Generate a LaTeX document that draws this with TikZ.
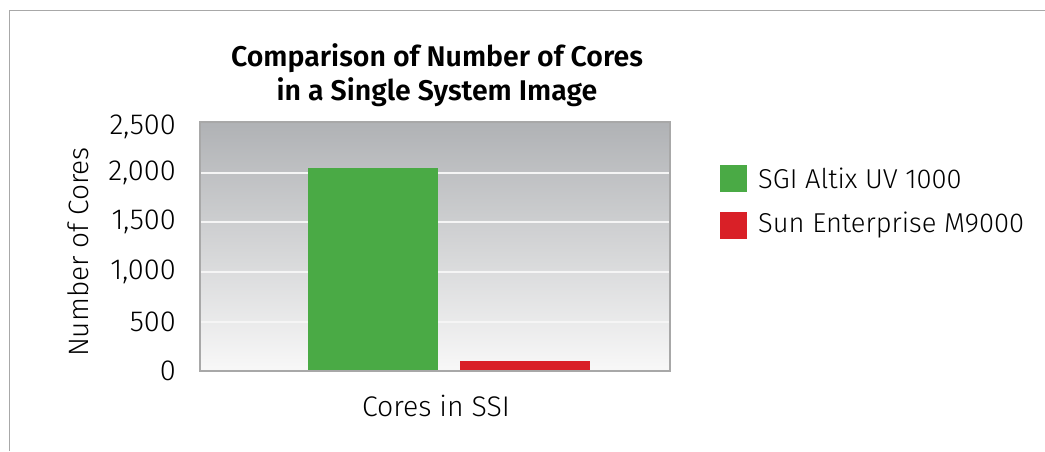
\documentclass[tikz,border=0pt]{standalone}
\usepackage{fontspec}
\setmainfont{Fira Sans}[UprightFont=* Light, BoldFont=* SemiBold]
\definecolor{sgigreen}{HTML}{4AAA45}
\definecolor{sunred}{HTML}{D92027}
\definecolor{frame}{HTML}{A8A8A8}
\definecolor{plottop}{HTML}{B0B2B5}
\definecolor{plotbot}{HTML}{F8F8F8}
\tikzset{
  ticklab/.style={anchor=east, inner sep=0pt, font=\fontsize{29}{29}\selectfont},
  legtext/.style={anchor=west, inner sep=0pt, font=\fontsize{27.3}{27}\selectfont},
  legbox/.style={minimum width=27pt, minimum height=27pt, inner sep=0pt},
  gridline/.style={draw=white!92!gray, line width=1.2pt},
}
\begin{document}
\begin{tikzpicture}[x=1pt,y=-1pt]
\useasboundingbox (0,0) rectangle (1045,451);
% outer frame
\draw[frame, line width=1pt] (9,451) -- (9,10) -- (1045,10);
% title
\node[align=center, font=\bfseries\fontsize{28.5}{34}\selectfont, inner sep=0pt] (title) at (437,75) {Comparison of Number of Cores\\in a Single System Image};
% plot area
\shade[top color=plottop, bottom color=plotbot] (200,122) rectangle (670,371);
\foreach \y in {173,222,272,322} \draw[gridline] (200,\y) -- (670,\y);
% bars
\fill[sgigreen] (308,168) rectangle (438,371);
\fill[sunred] (460,361) rectangle (590,371);
\draw[frame, line width=1.2pt] (200,122) rectangle (670,371);
% ticks
\node[ticklab] (t0) at (176,371) {0};
\node[ticklab] (t1) at (176,322) {500};
\node[ticklab] (t2) at (176,272) {1,000};
\node[ticklab] (t3) at (176,222) {1,500};
\node[ticklab] (t4) at (176,173) {2,000};
\node[ticklab] (t5) at (176,127) {2,500};
% axis labels
\node[rotate=90, font=\fontsize{28}{28}\selectfont, inner sep=0pt] (ylab) at (78,252) {Number of Cores};
\node[font=\fontsize{28.4}{28}\selectfont, inner sep=0pt] (xlab) at (436,406) {Cores in SSI};
% legend
\node[legbox, fill=sgigreen] (lg1) at (733.5,178.5) {};
\node[legtext] (lt1) at (758,178.5) {SGI Altix UV 1000};
\node[legbox, fill=sunred] (lg2) at (733.5,225.5) {};
\node[legtext] (lt2) at (758,225.5) {Sun Enterprise M9000};
\end{tikzpicture}
\end{document}
